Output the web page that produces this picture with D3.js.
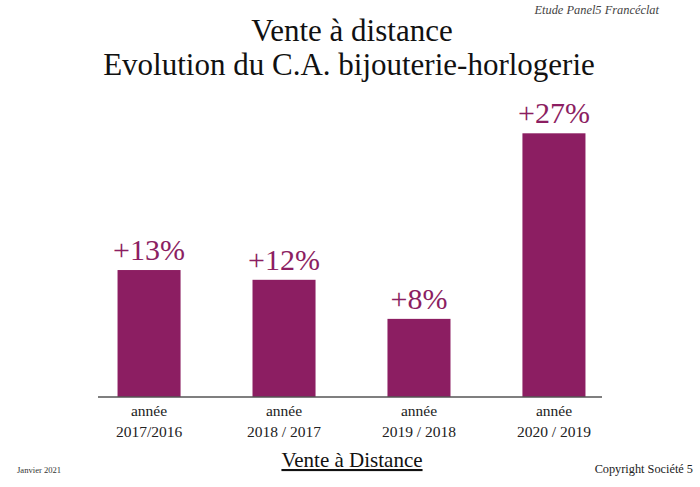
<!DOCTYPE html>
<html>
<head>
<meta charset="utf-8">
<script src="https://cdn.jsdelivr.net/npm/d3@7"></script>
<style>
  body { margin:0; background:#fff; }
  svg { display:block; font-family:"Liberation Serif","Times New Roman",serif; }
</style>
</head>
<body>
<svg id="chart" width="700" height="487"></svg>
<script>
// ---- data ----
var years = ["2017/2016", "2018 / 2017", "2019 / 2018", "2020 / 2019"]
var growth = [13, 12, 8, 27]
var valueLabels = ["+13%", "+12%", "+8%", "+27%"]

var width = 700, height = 487
var barColor = "#8c1e62"

var svg = d3.select("#chart")

var xScale = d3.scaleBand()
    .domain(years)
    .range([81.5, 621.5])
    .paddingInner(0.533)
    .paddingOuter(0.267)

var yScale = d3.scaleLinear()
    .domain([0, 30])
    .range([397, 104])

// titles
svg.append("text")
    .attr("x", 352).attr("y", 41)
    .attr("text-anchor", "middle")
    .attr("font-size", "31px")
    .attr("fill", "#111")
    .text("Vente à distance")

svg.append("text")
    .attr("x", 349).attr("y", 75)
    .attr("text-anchor", "middle")
    .attr("font-size", "31px")
    .attr("fill", "#111")
    .text("Evolution du C.A. bijouterie-horlogerie")

svg.append("text")
    .attr("x", 659).attr("y", 14)
    .attr("text-anchor", "end")
    .attr("font-size", "12.4px")
    .attr("font-style", "italic")
    .attr("fill", "#444")
    .text("Etude Panel5 Francéclat")

// bars
svg.append("g").selectAll("rect")
    .data(growth)
    .join("rect")
    .attr("x", function(d, i) { return xScale(years[i]) })
    .attr("y", function(d) { return yScale(d) })
    .attr("width", xScale.bandwidth())
    .attr("height", function(d) { return yScale(0) - yScale(d) })
    .attr("fill", barColor)

// value labels on top
svg.append("g").selectAll("text")
    .data(growth)
    .join("text")
    .attr("x", function(d, i) { return xScale(years[i]) + xScale.bandwidth() / 2 })
    .attr("y", function(d) { return yScale(d) - 10 })
    .attr("text-anchor", "middle")
    .attr("font-size", "30px")
    .attr("fill", barColor)
    .text(function(d, i) { return valueLabels[i] })

// baseline
svg.append("line")
    .attr("x1", 98).attr("x2", 602)
    .attr("y1", yScale(0)).attr("y2", yScale(0))
    .attr("stroke", "#555")
    .attr("stroke-width", 1.5)

// category labels
var cat = svg.append("g").selectAll("g")
    .data(years)
    .join("g")
    .attr("transform", function(d) { return "translate(" + (xScale(d) + xScale.bandwidth() / 2) + ",0)" })

cat.append("text")
    .attr("y", 416)
    .attr("text-anchor", "middle")
    .attr("font-size", "15.5px")
    .attr("fill", "#222")
    .text("année")

cat.append("text")
    .attr("y", 437)
    .attr("text-anchor", "middle")
    .attr("font-size", "15.5px")
    .attr("fill", "#222")
    .text(function(d) { return d })

// footer
svg.append("text")
    .attr("x", 352).attr("y", 467)
    .attr("text-anchor", "middle")
    .attr("font-size", "21px")
    .attr("fill", "#111")
    .attr("text-decoration", "underline")
    .text("Vente à Distance")

svg.append("text")
    .attr("x", 17).attr("y", 473)
    .attr("font-size", "8.6px")
    .attr("fill", "#333")
    .text("Janvier 2021")

svg.append("text")
    .attr("x", 693).attr("y", 473)
    .attr("text-anchor", "end")
    .attr("font-size", "12.3px")
    .attr("fill", "#222")
    .text("Copyright Société 5")
</script>
</body>
</html>
